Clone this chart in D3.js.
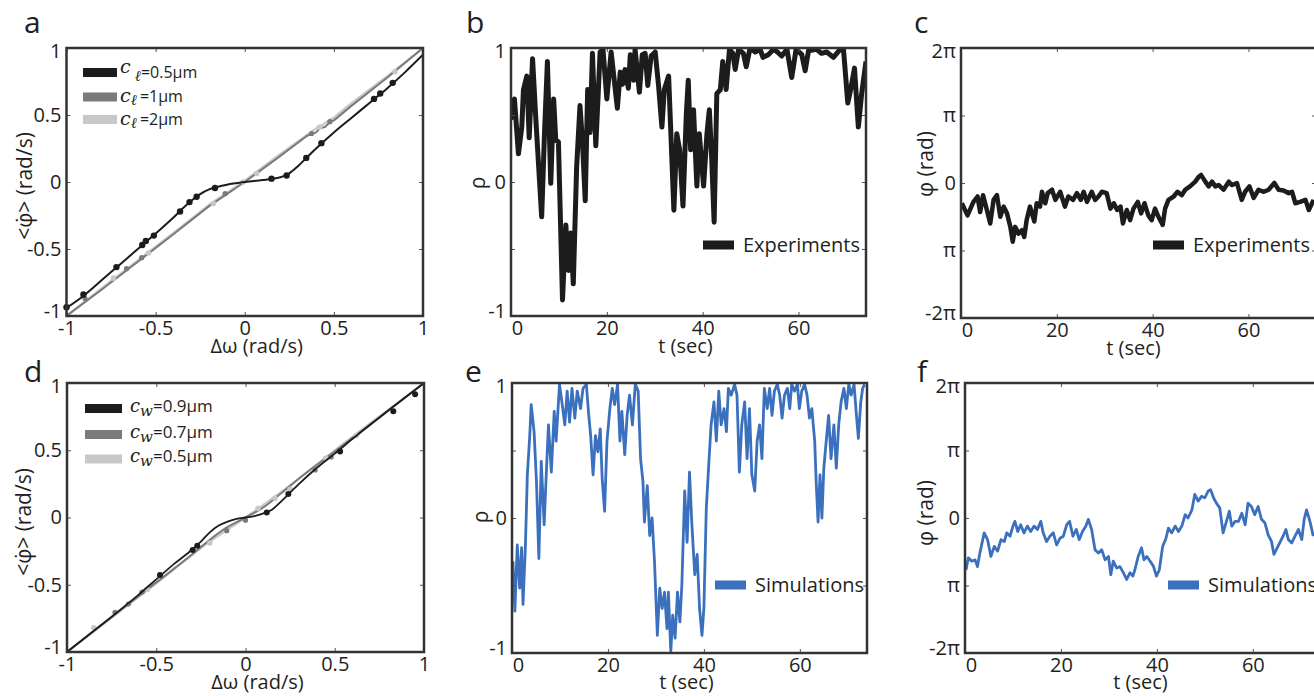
<!DOCTYPE html>
<html>
<head>
<meta charset="utf-8">
<script src="https://cdn.jsdelivr.net/npm/d3@7"></script>
<style>
  body { margin: 0; background: #fff; }
  svg { display: block; }
  text { font-family: "Open Sans", sans-serif; fill: #231f20; }
</style>
</head>
<body>
<svg id="fig" width="1314" height="696"></svg>
<script>
// ---- data ----
const wTicks = [-1, -0.5, 0, 0.5, 1];
const tTicks = [0, 20, 40, 60];
const rhoTicks = [-1, -0.5, 0, 0.5, 1];
const phiTicks = [-2, -1, 0, 1, 2];           // units of pi
const phiTickLabels = ['-2π', 'π', '0', 'π', '2π'];

// panel a: mean phase velocity vs detuning (c_l series)
const aBlackLine = [[-1,-0.94],[-0.9,-0.845],[-0.8,-0.73],[-0.7,-0.615],[-0.6,-0.5],[-0.5,-0.385],[-0.4,-0.265],[-0.35,-0.2],[-0.3,-0.14],[-0.25,-0.09],[-0.2,-0.055],[-0.15,-0.035],[-0.1,-0.02],[0,0],[0.1,0.015],[0.15,0.022],[0.2,0.035],[0.25,0.065],[0.3,0.12],[0.35,0.185],[0.4,0.25],[0.5,0.37],[0.6,0.48],[0.7,0.59],[0.8,0.7],[0.9,0.82],[1,0.95]];
const aBlackDots = [[-1,-0.935],[-0.905,-0.84],[-0.72,-0.635],[-0.575,-0.47],[-0.555,-0.44],[-0.51,-0.4],[-0.363,-0.22],[-0.31,-0.15],[-0.27,-0.11],[-0.167,-0.045],[0.15,0.025],[0.235,0.048],[0.345,0.18],[0.43,0.29],[0.725,0.62],[0.76,0.66],[0.83,0.74]];
const aDarkLine = [[-1,-1],[-0.8,-0.8],[-0.6,-0.595],[-0.4,-0.39],[-0.2,-0.18],[0,0],[0.2,0.195],[0.35,0.345],[0.4,0.37],[0.42,0.4],[0.45,0.41],[0.48,0.45],[0.5,0.46],[0.6,0.57],[0.8,0.78],[1,1]];
const aLightLine = [[-1,-1],[-0.8,-0.79],[-0.6,-0.585],[-0.4,-0.38],[-0.2,-0.17],[0,0.01],[0.2,0.21],[0.4,0.4],[0.44,0.43],[0.47,0.46],[0.5,0.48],[0.6,0.59],[0.8,0.79],[1,1]];
const aDarkDots = [[-0.896,-0.87],[-0.663,-0.647],[-0.578,-0.565],[-0.11,-0.087],[0.375,0.362],[0.478,0.45]];
const aLightDots = [[-0.737,-0.717],[-0.54,-0.53],[-0.176,-0.16],[-0.008,0],[0.067,0.063],[0.42,0.41],[0.843,0.823]];

// panel d: same, c_w series
const dBlackLine = [[-1,-1],[-0.8,-0.79],[-0.6,-0.575],[-0.5,-0.46],[-0.4,-0.345],[-0.3,-0.24],[-0.25,-0.18],[-0.2,-0.11],[-0.15,-0.06],[-0.1,-0.03],[-0.05,-0.01],[0,0],[0.05,0.01],[0.1,0.03],[0.15,0.06],[0.2,0.12],[0.25,0.185],[0.3,0.25],[0.4,0.37],[0.5,0.475],[0.6,0.585],[0.8,0.795],[1,1]];
const dBlackDots = [[-0.479,-0.427],[-0.296,-0.242],[-0.27,-0.21],[0.119,0.038],[0.24,0.175],[0.53,0.49],[0.828,0.79],[0.95,0.916]];
const dDarkLine = [[-1,-1],[-0.6,-0.585],[-0.4,-0.38],[-0.3,-0.275],[-0.2,-0.165],[-0.1,-0.07],[0,0],[0.1,0.075],[0.2,0.18],[0.3,0.29],[0.5,0.49],[0.8,0.795],[1,1]];
const dLightLine = [[-1,-1],[-0.5,-0.49],[-0.2,-0.18],[0,0],[0.2,0.19],[0.5,0.5],[1,1]];
const dDarkDots = [[-0.731,-0.705],[-0.656,-0.643],[-0.58,-0.554],[-0.105,-0.098],[0,-0.02],[0.39,0.353],[0.48,0.45]];
const dLightDots = [[-0.85,-0.82],[-0.55,-0.535],[-0.2,-0.19],[0.07,0.068],[0.165,0.143],[0.25,0.21],[0.45,0.44],[0.62,0.61]];

// panel b: experiments, rho(t)
const expRho = [[0,0.5],[0.16,0.48],[0.72,0.62],[1.55,0.21],[2.25,0.41],[2.6,0.69],[3.3,0.79],[3.8,0.33],[4.5,0.92],[5.2,0.46],[6.4,-0.26],[7.0,0.37],[7.6,0.9],[8.3,-0.01],[8.9,0.62],[9.35,0.31],[9.9,0.3],[10.75,-0.88],[11.45,-0.32],[12.0,-0.66],[12.5,-0.38],[13.0,-0.76],[13.7,0.11],[14.4,0.57],[14.9,0.31],[15.5,-0.14],[16.0,0.69],[16.5,0.37],[17.0,0.96],[17.7,0.27],[18.6,0.97],[19.2,0.99],[20.0,0.62],[20.9,0.97],[22.2,0.55],[22.8,0.82],[23.3,0.73],[23.8,0.84],[24.5,0.7],[24.9,0.95],[25.6,0.76],[25.9,0.99],[26.8,0.67],[27.4,0.95],[28.0,0.96],[28.55,0.72],[29.25,0.94],[30.1,0.97],[30.8,0.72],[31.5,0.41],[32.0,0.69],[32.9,0.79],[34.0,-0.21],[34.6,0.36],[35.2,0.24],[35.9,-0.18],[36.6,0.51],[37.0,0.76],[37.5,0.24],[38.1,0.54],[38.8,-0.03],[39.3,0.36],[40.2,-0.03],[40.9,0.36],[41.4,0.54],[41.9,0.17],[42.4,-0.3],[42.96,0.66],[43.7,0.69],[44.2,0.9],[44.9,0.69],[45.6,0.99],[46.3,0.96],[46.8,0.84],[47.5,0.99],[48.5,0.96],[49.1,0.86],[49.9,1],[50.97,0.97],[52.0,0.99],[52.6,0.93],[53.7,0.95],[54.8,0.99],[55.6,0.97],[56.5,0.94],[57.6,0.99],[58.6,0.78],[59.5,0.99],[60.7,0.95],[61.4,0.83],[62.1,0.98],[63.8,0.99],[64.8,0.96],[65.9,0.97],[67.3,0.93],[68.7,0.99],[69.4,0.99],[70.3,0.59],[70.9,0.69],[71.7,0.85],[72.5,0.41],[73.2,0.66],[74.1,0.9]];

// panel c: experiments, phi(t) in units of pi
const expPhi = [[0.18,-0.3],[1.36,-0.48],[2.6,-0.28],[3.45,-0.2],[4.0,-0.43],[4.6,-0.18],[5.4,-0.4],[6.1,-0.6],[6.8,-0.25],[7.5,-0.18],[8.2,-0.5],[8.9,-0.35],[9.6,-0.45],[10.3,-0.65],[10.8,-0.87],[11.3,-0.65],[12.0,-0.75],[12.7,-0.7],[13.2,-0.8],[13.7,-0.55],[14.4,-0.35],[15.3,-0.57],[15.8,-0.3],[16.5,-0.35],[16.9,-0.13],[17.6,-0.3],[18.1,-0.15],[19.0,-0.1],[19.7,-0.25],[20.7,-0.13],[21.7,-0.35],[22.4,-0.2],[23.4,-0.25],[24.2,-0.15],[25.0,-0.25],[25.6,-0.13],[26.3,-0.28],[27.3,-0.13],[28.0,-0.25],[28.7,-0.2],[29.4,-0.13],[30.4,-0.15],[31.2,-0.38],[31.9,-0.3],[32.6,-0.4],[33.3,-0.35],[33.8,-0.6],[34.6,-0.4],[35.3,-0.55],[36.0,-0.38],[36.9,-0.28],[37.6,-0.45],[38.3,-0.3],[39.1,-0.48],[39.8,-0.55],[40.5,-0.38],[41.2,-0.5],[42.1,-0.62],[42.6,-0.38],[43.3,-0.25],[44.4,-0.2],[45.2,-0.13],[46.1,-0.18],[46.8,-0.1],[47.8,-0.05],[48.9,0.02],[49.6,0.09],[50.1,0.12],[51.0,0.02],[51.7,-0.05],[52.4,0.02],[53.1,-0.05],[53.8,-0.03],[54.8,-0.1],[55.9,0.02],[56.5,-0.03],[57.6,0],[58.6,-0.25],[59.3,-0.13],[60.2,-0.05],[61.1,-0.22],[62.1,-0.1],[63.2,-0.13],[64.2,-0.1],[65.4,0],[66.3,-0.1],[67.3,-0.11],[68.4,-0.15],[69.1,-0.13],[69.8,-0.3],[70.8,-0.28],[71.9,-0.25],[72.6,-0.4],[73.6,-0.25]];

// panel e: simulations, rho(t)
const simRho = [[0.2,-0.32],[0.6,-0.69],[1.1,-0.2],[1.6,-0.52],[2.0,-0.22],[2.3,-0.64],[2.8,-0.2],[3.2,0.32],[3.7,0.61],[4.0,0.84],[4.6,0.64],[5.1,0.27],[5.6,-0.3],[6.1,0.42],[6.7,-0.05],[7.2,0.37],[7.6,0.69],[8.2,0.34],[8.8,0.79],[9.2,0.57],[9.6,0.81],[9.9,0.99],[10.4,0.86],[11.0,0.69],[11.5,0.94],[12.0,0.71],[12.5,0.96],[13.1,0.74],[13.6,0.94],[14.3,0.81],[14.8,0.96],[15.5,0.99],[16.0,0.76],[16.4,0.61],[16.9,0.32],[17.4,0.61],[17.9,0.49],[18.4,0.66],[18.8,0.29],[19.3,0.05],[19.8,0.57],[20.4,0.81],[20.9,0.96],[21.4,0.84],[22.0,0.99],[22.5,0.57],[22.9,0.79],[23.5,0.47],[24.0,0.76],[24.5,0.91],[25.1,0.69],[25.7,0.99],[26.3,0.94],[26.8,0.44],[27.3,0.27],[27.6,-0.03],[28.2,0.24],[28.7,-0.13],[29.2,0],[29.7,-0.32],[30.3,-0.87],[30.8,-0.52],[31.3,-0.67],[31.8,-0.55],[32.3,-0.82],[32.6,-0.55],[33.1,-0.99],[33.5,-0.72],[34.0,-0.89],[34.5,-0.55],[35.0,-0.77],[35.4,-0.5],[36.0,0.2],[36.5,-0.18],[37.0,0.34],[37.5,-0.05],[38.1,-0.42],[38.6,-0.27],[39.1,-0.67],[39.6,-0.87],[40.0,-0.67],[40.5,0.07],[41.0,0.39],[41.5,0.69],[42.1,0.86],[42.6,0.57],[43.1,0.94],[43.6,0.69],[44.2,0.81],[44.7,0.64],[45.1,0.96],[45.7,0.91],[46.4,0.99],[46.9,0.91],[47.4,0.34],[47.9,0.69],[48.5,0.86],[49.0,0.44],[49.5,0.81],[50.0,0.32],[50.6,0.2],[51.1,0.57],[51.6,0.69],[52.1,0.44],[52.6,0.96],[53.2,0.81],[53.7,0.96],[54.2,0.76],[54.7,0.94],[55.3,0.99],[55.8,0.91],[56.3,0.74],[56.8,0.91],[57.4,0.96],[57.9,0.81],[58.3,0.99],[58.9,0.94],[59.5,0.99],[59.9,0.81],[60.4,0.94],[61.0,0.99],[61.5,0.91],[62.0,0.74],[62.5,0.81],[63.1,0.57],[63.4,0.27],[63.8,-0.03],[64.2,0.32],[64.6,0],[65.0,0.37],[65.5,0.57],[66.0,0.76],[66.5,0.44],[67.1,0.69],[67.6,0.37],[68.1,0.69],[68.6,0.86],[69.2,0.96],[69.7,0.81],[70.2,0.99],[70.7,0.91],[71.3,0.99],[71.8,0.76],[72.2,0.59],[72.7,0.86],[73.1,0.96],[73.5,0.99]];

// panel f: simulations, phi(t) in units of pi
const simPhi = [[0.2,-0.77],[0.7,-0.59],[1.4,-0.64],[2.1,-0.62],[2.6,-0.72],[3.1,-0.52],[4.0,-0.22],[4.7,-0.32],[5.4,-0.57],[6.1,-0.42],[6.8,-0.49],[7.5,-0.32],[8.2,-0.35],[8.7,-0.22],[9.4,-0.27],[10.0,-0.12],[10.4,-0.05],[11.0,-0.2],[11.6,-0.1],[12.3,-0.22],[13.0,-0.12],[13.7,-0.2],[14.4,-0.12],[15.1,-0.17],[15.8,-0.05],[16.3,-0.22],[17.0,-0.35],[17.7,-0.27],[18.4,-0.22],[19.1,-0.4],[19.8,-0.3],[20.5,-0.27],[21.2,-0.1],[21.8,-0.05],[22.5,-0.27],[23.2,-0.17],[23.8,-0.32],[24.5,-0.2],[25.2,-0.12],[25.7,-0.02],[26.4,-0.17],[27.1,-0.47],[27.8,-0.52],[28.5,-0.47],[29.2,-0.62],[29.9,-0.57],[30.4,-0.84],[30.9,-0.64],[31.6,-0.74],[32.3,-0.72],[33.0,-0.81],[33.7,-0.91],[34.4,-0.81],[35.0,-0.86],[35.4,-0.77],[36.1,-0.57],[36.8,-0.44],[37.3,-0.62],[37.9,-0.57],[38.6,-0.64],[39.3,-0.72],[39.9,-0.86],[40.5,-0.77],[41.2,-0.42],[41.9,-0.3],[42.4,-0.15],[43.1,-0.22],[43.8,-0.12],[44.5,-0.2],[45.2,-0.12],[45.9,0.05],[46.5,0],[47.3,0.12],[47.9,0.35],[48.6,0.25],[49.3,0.32],[50.0,0.3],[50.7,0.4],[51.2,0.42],[51.8,0.3],[52.4,0.22],[53.1,0.15],[53.8,-0.22],[54.5,-0.05],[55.1,0.1],[55.6,-0.12],[56.3,-0.05],[57.0,-0.05],[57.7,0.07],[58.4,-0.1],[59.0,0.22],[59.7,0.17],[60.4,0.05],[61.1,0.17],[61.8,-0.02],[62.5,-0.07],[63.2,-0.25],[63.9,-0.35],[64.4,-0.54],[65.1,-0.44],[65.6,-0.37],[66.3,-0.27],[66.9,-0.17],[67.4,-0.32],[68.1,-0.37],[68.8,-0.27],[69.5,-0.17],[70.2,-0.32],[70.7,-0.02],[71.2,0.12],[71.9,-0.05],[72.6,-0.27]];

const blackColor = '#1c1c1c';
const darkGray = '#7a7a7a';
const lightGray = '#c8c8c8';
const blue = '#3a70bd';

const svg = d3.select('#fig');

// ---- helpers ----
const drawAxes = (x, y, xt, yt, opts) => {
  const [x0, x1] = x.range();
  const [yb, yt0] = y.range();
  const g = svg.append('g');

  const bottom = g.append('g')
    .attr('transform', `translate(0,${yb})`)
    .call(d3.axisBottom(x).tickValues(xt).tickSizeInner(-4).tickSizeOuter(0)
      .tickPadding(5).tickFormat(opts.xFormat));
  const left = g.append('g')
    .attr('transform', `translate(${x0},0)`)
    .call(d3.axisLeft(y).tickValues(yt).tickSizeInner(-4).tickSizeOuter(0)
      .tickPadding(5).tickFormat(opts.yFormat));
  g.append('g')
    .attr('transform', `translate(0,${yt0})`)
    .call(d3.axisTop(x).tickValues(xt).tickSizeInner(-4).tickSizeOuter(0).tickFormat(''));
  g.append('g')
    .attr('transform', `translate(${x1},0)`)
    .call(d3.axisRight(y).tickValues(yt).tickSizeInner(-4).tickSizeOuter(0).tickFormat(''));

  g.selectAll('.domain').remove();
  g.selectAll('.tick line').attr('stroke', '#555').attr('stroke-width', 1);
  g.selectAll('.tick text')
    .attr('font-family', '"Open Sans", sans-serif')
    .attr('font-size', 20)
    .attr('fill', '#231f20');

  // first x label sits a bit right of the frame, end y labels pulled inward
  if (opts.shiftZero) {
    bottom.selectAll('.tick text').filter(d => d === xt[0]).attr('dx', 6);
  }
  left.selectAll('.tick text').filter(d => d === yt[0]).attr('dy', '0.05em');
  left.selectAll('.tick text').filter(d => d === yt[yt.length - 1]).attr('dy', '0.45em');

  g.append('rect')
    .attr('x', x0)
    .attr('y', yt0)
    .attr('width', x1 - x0)
    .attr('height', yb - yt0)
    .attr('fill', 'none')
    .attr('stroke', '#333')
    .attr('stroke-width', 2.5);
};

const addTitles = (x, y, t) => {
  const [x0, x1] = x.range();
  const [yb] = y.range();
  svg.append('text')
    .attr('x', (x0 + x1) / 2 + t.xOff)
    .attr('y', Math.min(yb + 37, 689))
    .attr('text-anchor', 'middle')
    .attr('font-size', 20)
    .text(t.xTitle);
  svg.append('text')
    .attr('transform', `translate(${t.yx},${t.yy}) rotate(-90)`)
    .attr('text-anchor', 'middle')
    .attr('dominant-baseline', 'central')
    .attr('font-size', 21)
    .text(t.yTitle);
  svg.append('text')
    .attr('x', t.lx)
    .attr('y', t.ly)
    .attr('font-size', 30)
    .text(t.letter);
};

const clip = (id, x, y) => {
  const [x0, x1] = x.range();
  const [yb, yt0] = y.range();
  svg.append('clipPath').attr('id', id)
    .append('rect')
    .attr('x', x0).attr('y', yt0)
    .attr('width', x1 - x0).attr('height', yb - yt0);
  return `url(#${id})`;
};

const drawLine = (data, x, y, color, width, clipUrl, curve) => {
  svg.append('path')
    .datum(data)
    .attr('clip-path', clipUrl)
    .attr('fill', 'none')
    .attr('stroke', color)
    .attr('stroke-width', width)
    .attr('stroke-linejoin', 'round')
    .attr('d', d3.line()
      .x(d => x(d[0]))
      .y(d => y(d[1]))
      .curve(curve || d3.curveLinear));
};

const drawDots = (data, x, y, color, r) => {
  svg.append('g')
    .selectAll('circle')
    .data(data)
    .join('circle')
    .attr('cx', d => x(d[0]))
    .attr('cy', d => y(d[1]))
    .attr('r', r)
    .attr('fill', color);
};

const numFmt = d => String(d);
const rhoFmt = d => (d === -1 || d === 0 || d === 1) ? String(d) : '';
const phiFmt = d => phiTickLabels[phiTicks.indexOf(d)];

// ---- panel a ----
let xA = d3.scaleLinear().domain([-1, 1]).range([66.5, 423]);
let yA = d3.scaleLinear().domain([-1, 1]).range([316, 48]);
let cA = clip('clipA', xA, yA);
drawLine(aLightLine, xA, yA, lightGray, 2.2, cA);
drawLine(aDarkLine, xA, yA, darkGray, 2, cA);
drawDots(aLightDots, xA, yA, lightGray, 2.8);
drawDots(aDarkDots, xA, yA, darkGray, 2.6);
drawLine(aBlackLine, xA, yA, blackColor, 2, cA, d3.curveMonotoneX);
drawDots(aBlackDots, xA, yA, blackColor, 3.2);
drawAxes(xA, yA, wTicks, wTicks, { xFormat: numFmt, yFormat: numFmt });
addTitles(xA, yA, { xTitle: 'Δω (rad/s)', xOff: 12, yTitle: '<φ̇> (rad/s)', yx: 24, yy: 186, letter: 'a', lx: 24, ly: 33 });

// legend a
const legA = [
  { color: blackColor, value: '=0.5μm', cy: 72.5, raised: true },
  { color: darkGray, value: '=1μm', cy: 97, raised: false },
  { color: lightGray, value: '=2μm', cy: 119.5, raised: false }
];
legA.forEach(e => {
  svg.append('rect')
    .attr('x', 83).attr('y', e.cy - 4.5)
    .attr('width', 34).attr('height', 9)
    .attr('fill', e.color);
  let t = svg.append('text')
    .attr('x', 120)
    .attr('y', e.cy + 5)
    .attr('font-size', 16);
  t.append('tspan')
    .attr('font-family', '"DejaVu Serif", serif')
    .attr('font-style', 'italic')
    .attr('font-size', 19)
    .attr('dy', e.raised ? -5 : 0)
    .text('c');
  t.append('tspan')
    .attr('font-family', '"DejaVu Serif", serif')
    .attr('font-style', 'italic')
    .attr('font-size', 15)
    .attr('dx', e.raised ? 4 : 0)
    .attr('dy', e.raised ? 8 : 3)
    .text('ℓ');
  t.append('tspan')
    .attr('dx', e.raised ? 0 : 3)
    .attr('dy', -3)
    .text(e.value);
});

// ---- panel d ----
let xD = d3.scaleLinear().domain([-1, 1]).range([67, 424]);
let yD = d3.scaleLinear().domain([-1, 1]).range([652, 383]);
let cD = clip('clipD', xD, yD);
drawLine(dLightLine, xD, yD, lightGray, 2.2, cD, d3.curveMonotoneX);
drawLine(dDarkLine, xD, yD, darkGray, 2, cD, d3.curveMonotoneX);
drawDots(dLightDots, xD, yD, lightGray, 2.8);
drawDots(dDarkDots, xD, yD, darkGray, 2.6);
drawLine(dBlackLine, xD, yD, blackColor, 1.8, cD, d3.curveMonotoneX);
drawDots(dBlackDots, xD, yD, blackColor, 3);
drawAxes(xD, yD, wTicks, wTicks, { xFormat: numFmt, yFormat: numFmt });
addTitles(xD, yD, { xTitle: 'Δω (rad/s)', xOff: 12, yTitle: '<φ̇> (rad/s)', yx: 23, yy: 522, letter: 'd', lx: 24, ly: 382 });

const legD = [
  { color: blackColor, value: '=0.9μm', cy: 408.5 },
  { color: darkGray, value: '=0.7μm', cy: 434.5 },
  { color: lightGray, value: '=0.5μm', cy: 459 }
];
legD.forEach(e => {
  svg.append('rect')
    .attr('x', 85).attr('y', e.cy - 4.5)
    .attr('width', 37).attr('height', 9)
    .attr('fill', e.color);
  let t = svg.append('text')
    .attr('x', 130)
    .attr('y', e.cy + 3)
    .attr('font-size', 17);
  t.append('tspan')
    .attr('font-family', '"DejaVu Serif", serif')
    .attr('font-style', 'italic')
    .attr('font-size', 18)
    .text('c');
  t.append('tspan')
    .attr('font-family', '"DejaVu Serif", serif')
    .attr('font-style', 'italic')
    .attr('font-size', 15)
    .attr('dy', 4)
    .text('w');
  t.append('tspan')
    .attr('dy', -4)
    .text(e.value);
});

// ---- time series panels ----
const legendSwatch = (x0, cy, color, label) => {
  svg.append('rect')
    .attr('x', x0).attr('y', cy - 4.5)
    .attr('width', 31).attr('height', 9)
    .attr('fill', color);
  svg.append('text')
    .attr('x', x0 + 40)
    .attr('y', cy + 7)
    .attr('font-size', 20)
    .text(label);
};

// panel b
let xB = d3.scaleLinear().domain([0, 74.1]).range([511, 866]);
let yB = d3.scaleLinear().domain([-1, 1]).range([316, 48]);
drawLine(expRho, xB, yB, blackColor, 5, clip('clipB', xB, yB));
drawAxes(xB, yB, tTicks, rhoTicks, { xFormat: numFmt, yFormat: rhoFmt, shiftZero: true });
addTitles(xB, yB, { xTitle: 't (sec)', xOff: -3, yTitle: 'ρ', yx: 477, yy: 183, letter: 'b', lx: 466, ly: 33 });
legendSwatch(703, 245, blackColor, 'Experiments');

// panel c
let xC = d3.scaleLinear().domain([0, 74.1]).range([961, 1316]);
let yC = d3.scaleLinear().domain([-2, 2]).range([318, 48]);
drawLine(expPhi, xC, yC, blackColor, 4.5, clip('clipC', xC, yC));
drawAxes(xC, yC, tTicks, phiTicks, { xFormat: numFmt, yFormat: phiFmt, shiftZero: true });
addTitles(xC, yC, { xTitle: 't (sec)', xOff: -5, yTitle: 'φ (rad)', yx: 925, yy: 164, letter: 'c', lx: 914, ly: 33 });
legendSwatch(1153, 245, blackColor, 'Experiments');

// panel e
let xE = d3.scaleLinear().domain([0, 74]).range([512, 867]);
let yE = d3.scaleLinear().domain([-1, 1]).range([653, 383]);
drawLine(simRho, xE, yE, blue, 2.8, clip('clipE', xE, yE));
drawAxes(xE, yE, tTicks, rhoTicks, { xFormat: numFmt, yFormat: rhoFmt, shiftZero: true });
addTitles(xE, yE, { xTitle: 't (sec)', xOff: -3, yTitle: 'ρ', yx: 480, yy: 517, letter: 'e', lx: 465, ly: 382 });
legendSwatch(715, 585, blue, 'Simulations');

// panel f
let xF = d3.scaleLinear().domain([0, 74]).range([965, 1320]);
let yF = d3.scaleLinear().domain([-2, 2]).range([653, 383]);
drawLine(simPhi, xF, yF, blue, 2.8, clip('clipF', xF, yF));
drawAxes(xF, yF, tTicks, phiTicks, { xFormat: numFmt, yFormat: phiFmt, shiftZero: true });
addTitles(xF, yF, { xTitle: 't (sec)', xOff: -2, yTitle: 'φ (rad)', yx: 925, yy: 513, letter: 'f', lx: 917, ly: 382 });
legendSwatch(1168, 585, blue, 'Simulations');
</script>
</body>
</html>
